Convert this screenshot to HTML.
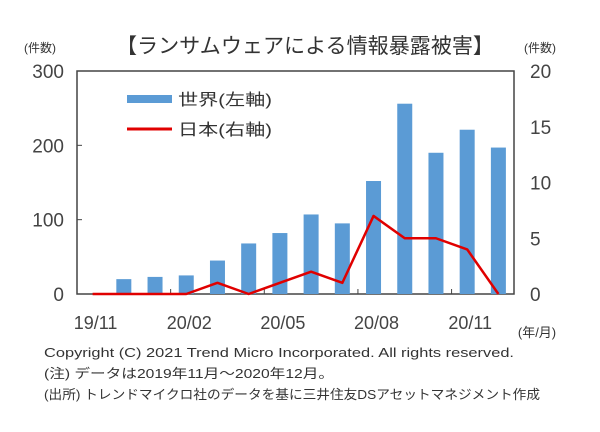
<!DOCTYPE html>
<html><head><meta charset="utf-8"><style>
body{margin:0;background:#fff;}
svg{display:block;font-family:"Liberation Sans","Noto Sans CJK JP",sans-serif;}
</style></head><body>
<svg id="c" width="600" height="432" viewBox="0 0 600 432">
<text x="116" y="53" textLength="378" lengthAdjust="spacingAndGlyphs" font-size="21" fill="#333">【ランサムウェアによる情報暴露被害】</text>
<text x="40" y="52" text-anchor="middle" font-size="12" fill="#333">(件数)</text>
<text x="540" y="52" text-anchor="middle" font-size="12" fill="#333">(件数)</text>
<rect x="77" y="71" width="437" height="223" fill="none" stroke="#444" stroke-width="1.5"/>
<g id="bars"></g><g id="axes"></g><g id="line"></g>
<g>
<rect x="127" y="95" width="45" height="8" fill="#5b9bd5"/>
<text x="178" y="105" textLength="94" lengthAdjust="spacingAndGlyphs" font-size="16" fill="#333">世界(左軸)</text>
<line x1="127" y1="129" x2="172" y2="129" stroke="#e00000" stroke-width="3"/>
<text x="178" y="135" textLength="94" lengthAdjust="spacingAndGlyphs" font-size="16" fill="#333">日本(右軸)</text>
</g>
<text x="537" y="337" text-anchor="middle" font-size="13" fill="#333">(年/月)</text>
<text x="44" y="357" textLength="470" lengthAdjust="spacingAndGlyphs" font-size="13" fill="#333">Copyright (C) 2021 Trend Micro Incorporated. All rights reserved.</text>
<text x="44" y="378" textLength="290" lengthAdjust="spacingAndGlyphs" font-size="13" fill="#333">(注) データは2019年11月～2020年12月。</text>
<text x="44" y="399" textLength="496" lengthAdjust="spacingAndGlyphs" font-size="13" fill="#333">(出所) トレンドマイクロ社のデータを基に三井住友DSアセットマネジメント作成</text>
</svg>
<script>
const categories=["19/11","19/12","20/01","20/02","20/03","20/04","20/05","20/06","20/07","20/08","20/09","20/10","20/11","20/12"];
const worldValues=[0,20,23,25,45,68,82,107,95,152,256,190,221,197];
const japanValues=[0,0,0,0,1,0,1,2,1,7,5,5,4,0];
const leftTicks=[0,100,200,300];
const rightTicks=[0,5,10,15,20];
const xLabels=["19/11","20/02","20/05","20/08","20/11"];
const NS="http://www.w3.org/2000/svg";
const L=77,R=514,T=71,B=294,step=(R-L)/categories.length;
const x=i=>L+step*(i+0.5);
const yL=v=>B-(v/300)*(B-T);
const yR=v=>B-(v/20)*(B-T);
function mk(t,a,p){const e=document.createElementNS(NS,t);for(const k in a)e.setAttribute(k,a[k]);p.appendChild(e);return e;}
const bars=document.getElementById('bars'),axes=document.getElementById('axes'),line=document.getElementById('line');
worldValues.forEach((v,i)=>{if(v<=0)return;const r=mk('rect',{x:x(i)-7.5,y:yL(v),width:15,height:B-yL(v),fill:'#5b9bd5'},bars);

});
leftTicks.forEach(v=>{const t=mk('text',{x:64,y:yL(v)+7,'text-anchor':'end','font-size':19,fill:'#444'},axes);t.textContent=v;


mk('line',{x1:77,x2:82,y1:yL(v),y2:yL(v),stroke:'#444'},axes);});
rightTicks.forEach(v=>{const t=mk('text',{x:530,y:yR(v)+7,'font-size':19,fill:'#444'},axes);t.textContent=v;

});
xLabels.forEach(l=>{const i=categories.indexOf(l);const t=mk('text',{x:x(i)+3,y:329,'text-anchor':'middle','font-size':18,fill:'#444'},axes);t.textContent=l;


mk('line',{x1:x(i)-step*0.5,x2:x(i)-step*0.5,y1:B,y2:B-5,stroke:'#444'},axes);});
const p=mk('polyline',{points:japanValues.map((v,i)=>x(i)+','+yR(v)).join(' '),fill:'none',stroke:'#e00000','stroke-width':2.5,'stroke-linejoin':'round'},line);


</script>
</body></html>
